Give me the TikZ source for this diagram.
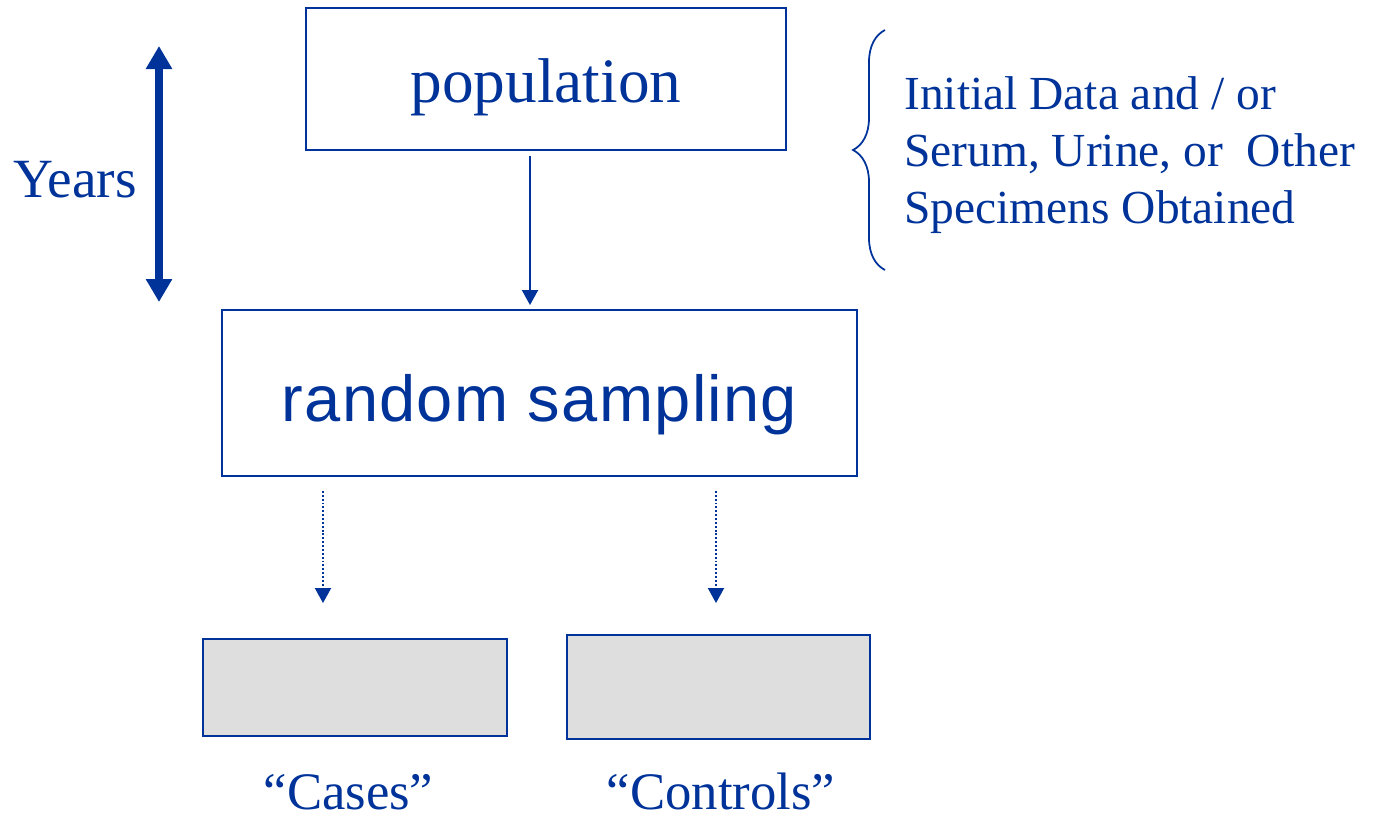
\documentclass[tikz,border=0pt]{standalone}
\usepackage{fontspec}
\setmainfont{Liberation Serif}
\setsansfont{Liberation Sans}
\newfontfamily\spacedsans[LetterSpace=2]{Liberation Sans}
\usetikzlibrary{positioning, arrows.meta, calc, decorations.pathreplacing}
\definecolor{deepblue}{RGB}{0,51,153}
\definecolor{boxgray}{RGB}{222,222,222}

\begin{document}
\begin{tikzpicture}[
    x=0.02cm, y=-0.02cm,
    stage/.style={rectangle, draw=deepblue, line width=1.1pt, text=deepblue,
                  inner sep=0pt, align=center, text depth=0.3cm},
    group/.style={rectangle, draw=deepblue, line width=1.1pt, fill=boxgray,
                  inner sep=0pt},
    note/.style={text=deepblue, inner sep=0pt, font=\fontsize{30}{36}\selectfont},
    arrow/.style={-{Triangle[width=0.32cm, length=0.3cm]}, line width=1.1pt, deepblue},
    dotarrow/.style={arrow, dash pattern=on 1.1pt off 1.1pt},
    timearrow/.style={{Triangle[width=0.5cm, length=0.46cm]}-{Triangle[width=0.5cm, length=0.46cm]},
                      line width=4.5pt, deepblue},
    brace/.style={decorate, decoration={brace, amplitude=0.64cm}, deepblue, line width=1pt}
  ]
    \useasboundingbox (0,0) rectangle (1373,819);

    % Population and sampling boxes
    \node[stage, minimum width=9.6cm, minimum height=2.84cm, text height=1.22cm,
          font=\fontsize{36}{43}\selectfont] (population) at (546,79) {population};
    \node[stage, minimum width=12.7cm, minimum height=3.32cm, text height=1.42cm,
          font=\spacedsans\fontsize{37}{44}\selectfont] (sampling) at (539.5,393) {random sampling};

    % Grey boxes for the two groups
    \node[group, minimum width=6.08cm, minimum height=1.94cm] (cases) at (355,687.5) {};
    \node[group, minimum width=6.06cm, minimum height=2.08cm] (controls) at (718.5,687) {};

    % Group names under the boxes
    \node[note, anchor=base] (cases-label) at (348.5,809) {``Cases''};
    \node[note, anchor=base] (controls-label) at (721,809) {``Controls''};

    % Time axis on the left
    \coordinate (years-top) at (159,46);
    \coordinate (years-bot) at (159,302);
    \draw[timearrow] (years-top) -- (years-bot);
    \node[note, anchor=base, font=\fontsize{31.5}{38}\selectfont] (years) at (75,197) {Years};

    % Specimens note with brace
    \node[note, anchor=west, align=left, font=\fontsize{27}{32.4}\selectfont] (specimens) at (904,155)
        {Initial Data and / or\\Serum, Urine, or~ Other\\Specimens Obtained};
    \coordinate (brace-bot) at (885,270);
    \coordinate (brace-top) at (885,30);
    \draw[brace] (brace-bot) -- (brace-top);

    % Arrows
    \draw[arrow] ($(population.south)+(-16,5)$) -- ($(sampling.north)+(-9.5,-4)$);
    \draw[dotarrow] ($(cases.north |- sampling.south)+(-32,14)$) -- ($(cases.north)+(-32,-35)$);
    \draw[dotarrow] ($(controls.north |- sampling.south)+(-2.5,14)$) -- ($(controls.north)+(-2.5,-31)$);

  \end{tikzpicture}
\end{document}
